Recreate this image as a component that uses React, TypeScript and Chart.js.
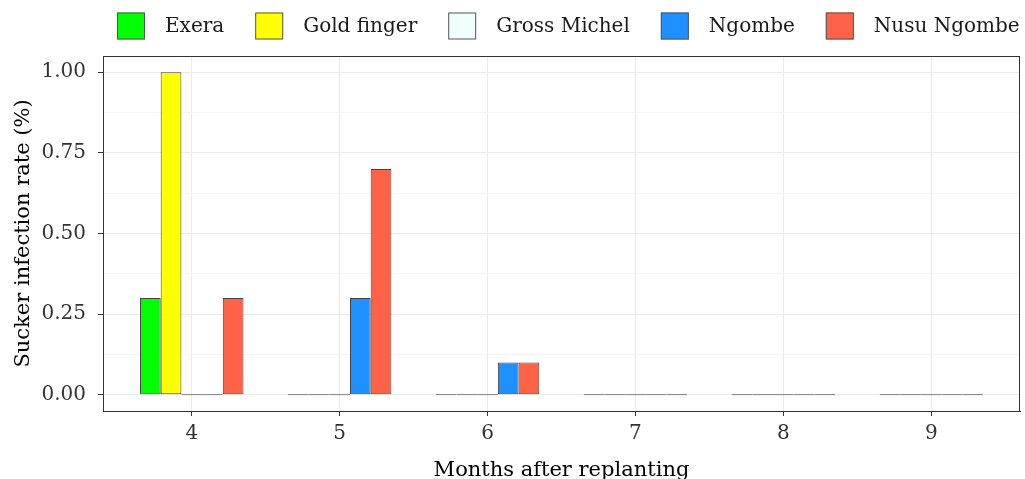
import React, { useEffect, useRef } from 'react';
import { Chart, registerables } from 'chart.js';

Chart.register(...registerables);

// ---- data ----
const months = [4, 5, 6, 7, 8, 9];
const seriesNames = ['Exera', 'Gold finger', 'Gross Michel', 'Ngombe', 'Nusu Ngombe'];
const exera = [0.3, 0, 0, 0, 0, 0];
const goldFinger = [1.0, 0, 0, 0, 0, 0];
const grossMichel = [0, 0, 0, 0, 0, 0];
const ngombe = [0, 0.3, 0.1, 0, 0, 0];
const nusuNgombe = [0.3, 0.7, 0.1, 0, 0, 0];
const seriesColors = ['#00FF00', '#FFFF00', '#F0FFFF', '#1E90FF', '#FF6347'];
const yMajorTicks = [0, 0.25, 0.5, 0.75, 1.0];
const yMinorTicks = [0.125, 0.375, 0.625, 0.875];

const FONT = "'DejaVu Serif', serif";

const isMajor = (v: number) => yMajorTicks.some((t) => Math.abs(t - v) < 1e-9);

const legendPlugin = {
  id: 'topLegend',
  afterDraw(chart: any) {
    const ctx = chart.ctx;
    ctx.save();
    ctx.font = `20px ${FONT}`;
    ctx.textBaseline = 'middle';
    ctx.textAlign = 'left';
    let x = 117;
    const yc = 25.5;
    chart.data.datasets.forEach((ds: any) => {
      ctx.fillStyle = ds.backgroundColor;
      ctx.fillRect(x, yc - 13, 28, 27);
      ctx.strokeStyle = '#555555';
      ctx.lineWidth = 1;
      ctx.strokeRect(x + 0.5, yc - 13 + 0.5, 27, 26);
      ctx.fillStyle = '#1a1a1a';
      ctx.fillText(ds.label, x + 48, yc + 1);
      x += 48 + ctx.measureText(ds.label).width + 31;
    });
    ctx.restore();
  },
};

const borderPlugin = {
  id: 'panelBorder',
  afterDraw(chart: any) {
    const { left, right, top, bottom } = chart.chartArea;
    const ctx = chart.ctx;
    ctx.save();
    ctx.strokeStyle = '#333333';
    ctx.lineWidth = 1;
    ctx.strokeRect(Math.round(left) + 0.5, Math.round(top) + 0.5, Math.round(right - left) - 1, Math.round(bottom - top));
    ctx.restore();
  },
};

export default function App() {
  const ref = useRef<HTMLCanvasElement>(null);

  useEffect(() => {
    const series = [exera, goldFinger, grossMichel, ngombe, nusuNgombe];
    const chart = new Chart(ref.current as HTMLCanvasElement, {
      type: 'bar',
      data: {
        datasets: series.map((vals, i) => ({
          label: seriesNames[i],
          data: months.map((m, j) => ({ x: m, y: vals[j] })),
          backgroundColor: seriesColors[i],
          borderColor: '#444444',
          borderWidth: 1,
          borderSkipped: false,
          minBarLength: 1,
          categoryPercentage: 0.7,
          barPercentage: 1,
        })),
      } as any,
      options: {
        animation: false,
        responsive: false,
        devicePixelRatio: 1,
        layout: { padding: { top: 56, right: 5, left: 0, bottom: 0 } },
        plugins: { legend: { display: false }, tooltip: { enabled: false } },
        scales: {
          x: {
            type: 'linear',
            min: 3.4,
            max: 9.6,
            offset: false,
            afterBuildTicks: (s: any) => {
              s.ticks = months.map((v) => ({ value: v }));
            },
            afterFit: (s: any) => {
              s.height = 72;
            },
            grid: {
              offset: false,
              color: '#EBEBEB',
              lineWidth: 1,
              tickColor: '#333333',
              tickLength: 5,
              drawTicks: true,
            },
            border: { display: true, color: '#333333', width: 1 },
            ticks: {
              font: { family: FONT, size: 20 },
              color: '#333333',
              padding: 6,
              maxRotation: 0,
              callback: (v: any) => String(v),
            },
            title: {
              display: true,
              text: 'Months after replanting',
              font: { family: FONT, size: 21 },
              color: '#000000',
              padding: { top: 0, bottom: 0 },
            },
          },
          y: {
            type: 'linear',
            min: -0.05,
            max: 1.05,
            afterBuildTicks: (s: any) => {
              s.ticks = [...yMajorTicks, ...yMinorTicks].sort((a, b) => a - b).map((v) => ({ value: v }));
            },
            afterFit: (s: any) => {
              s.width = 103;
            },
            grid: {
              color: (c: any) => (isMajor(c.tick?.value) ? '#EBEBEB' : '#F5F5F5'),
              lineWidth: 1,
              tickColor: (c: any) => (isMajor(c.tick?.value) ? '#333333' : 'rgba(0,0,0,0)'),
              tickLength: 5,
              drawTicks: true,
            },
            border: { display: true, color: '#333333', width: 1 },
            ticks: {
              font: { family: FONT, size: 20 },
              color: '#333333',
              padding: 12,
              callback: (v: any) => (isMajor(Number(v)) ? Number(v).toFixed(2) : ''),
            },
            title: {
              display: true,
              text: 'Sucker infection rate (%)',
              font: { family: FONT, size: 21 },
              color: '#000000',
              padding: { top: 11, bottom: 0 },
            },
          },
        },
      } as any,
      plugins: [legendPlugin, borderPlugin],
    });
    return () => chart.destroy();
  }, []);

  return (
    <div style={{ position: 'fixed', left: 0, top: 0, width: 1025, height: 479, overflow: 'hidden', background: '#fff' }}>
      <canvas ref={ref} width={1025} height={483} style={{ width: 1025, height: 483, display: 'block' }} />
    </div>
  );
}
